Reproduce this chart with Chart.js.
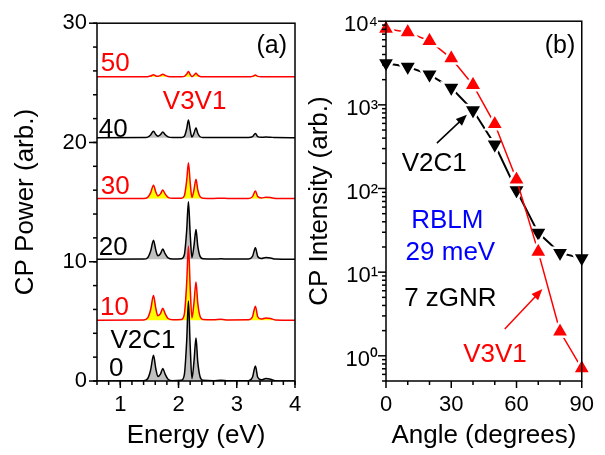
<!DOCTYPE html>
<html><head><meta charset="utf-8">
<script src="https://cdn.jsdelivr.net/npm/chart.js@4/dist/chart.umd.min.js"></script>
<style>
html,body{margin:0;padding:0;background:#fff;}
#wrap{position:relative;width:605px;height:455px;background:#fff;}
canvas{position:absolute;left:0;top:0;}
</style></head><body>
<div id="wrap"><canvas id="ca" width="605" height="455"></canvas><canvas id="cb" width="605" height="455"></canvas></div>
<script>
// ---------- Panel (a): CP power spectra (values above each baseline) ----------
const energy = [0.60, 1.40, 1.47, 1.52, 1.57, 1.61, 1.645, 1.69, 1.73, 1.77, 1.82, 1.90, 2.05, 2.10, 2.14, 2.17, 2.20, 2.23, 2.265, 2.30, 2.33, 2.37, 2.42, 2.60, 2.73, 2.85, 3.20, 3.27, 3.32, 3.36, 3.42, 3.50, 3.58, 3.66, 4.00];
const spec0  = [0,0.02,0.19,0.9,2.15,1.03,0.38,0.58,1.05,0.58,0.15,0.03,0.07,0.54,3.35,6.7,3.0,0.2,1.62,3.6,1.62,0.36,0.07,0.03,0.07,0.02,0.03,0.31,1.25,0.31,0.1,0.2,0.15,0.03,0];
const spec10 = [0,0.02,0.19,0.87,2.07,0.99,0.37,0.55,1.0,0.55,0.14,0.03,0.06,0.5,3.1,6.2,2.79,0.19,1.44,3.2,1.44,0.32,0.06,0.03,0.07,0.02,0.03,0.29,1.17,0.29,0.09,0.19,0.14,0.02,0];
const spec20 = [0,0.02,0.14,0.67,1.6,0.77,0.3,0.47,0.86,0.47,0.12,0.03,0.05,0.39,2.42,4.83,2.17,0.14,1.13,2.5,1.13,0.25,0.05,0.02,0.05,0.02,0.02,0.24,0.97,0.24,0.08,0.16,0.12,0.02,0];
const spec30 = [0,0.01,0.1,0.47,1.12,0.54,0.22,0.39,0.71,0.39,0.1,0.02,0.03,0.24,1.5,3.0,1.35,0.09,0.73,1.62,0.73,0.16,0.03,0.01,0.03,0.01,0.01,0.16,0.63,0.16,0.05,0.1,0.08,0.01,0];
const spec40 = [0,0.01,0.05,0.23,0.55,0.26,0.12,0.26,0.47,0.26,0.07,0.01,0.02,0.12,0.75,1.49,0.67,0.05,0.37,0.83,0.37,0.08,0.02,0.01,0.02,0.01,0.01,0.09,0.36,0.09,0.03,0.06,0.04,0.01,0];
const spec50 = [0,0,0.02,0.07,0.17,0.08,0.05,0.12,0.22,0.12,0.03,0.01,0.01,0.04,0.23,0.45,0.2,0.02,0.14,0.3,0.14,0.03,0.01,0,0.01,0,0,0.04,0.15,0.04,0.01,0.02,0.02,0,0];
const specAngles  = ['0', '10', '20', '30', '40', '50'];
const specOffsets = [0, 5.1, 10.2, 15.3, 20.4, 25.5];
const energyTicks = [1, 2, 3, 4];
const powerTicks  = [0, 10, 20, 30];

// ---------- Panel (b): CP intensity vs angle ----------
const angleDeg = [0, 10, 20, 30, 40, 50, 60, 70, 80, 90];
const v3v1 = [8100, 7400, 5800, 3600, 1730, 590, 128, 17.5, 1.95, 0.71];
const v2c1 = [3150, 2850, 2300, 1600, 860, 335, 95, 29.5, 17, 14.7];
const angleTicks = [0, 30, 60, 90];
const intensityTicks = [1, 10, 100, 1000, 10000];
const intensityTickLabels = ['10\u2070', '10\u00B9', '10\u00B2', '10\u00B3', '10\u2074'];

const FONT = '"Liberation Sans", Arial, Helvetica, sans-serif';
const RED = '#ff0000', BLACK = '#000000', YELLOW = '#ffff00', GRAY = '#c0c0c0', BLUE = '#0000ff';

function seg(ctx, x1, y1, x2, y2) { ctx.beginPath(); ctx.moveTo(x1, y1); ctx.lineTo(x2, y2); ctx.stroke(); }
function txt(ctx, s, x, y, color, size) {
  ctx.font = size + 'px ' + FONT; ctx.fillStyle = color; ctx.textAlign = 'center'; ctx.textBaseline = 'middle';
  ctx.fillText(s, x, y);
}
function arrow(ctx, x1, y1, x2, y2, color) {
  const ang = Math.atan2(y2 - y1, x2 - x1), hl = 11, hw = 4.5;
  ctx.strokeStyle = color; ctx.fillStyle = color; ctx.lineWidth = 1.5;
  seg(ctx, x1, y1, x2 - hl * 0.7 * Math.cos(ang), y2 - hl * 0.7 * Math.sin(ang));
  ctx.beginPath(); ctx.moveTo(x2, y2);
  ctx.lineTo(x2 - hl * Math.cos(ang) + hw * Math.sin(ang), y2 - hl * Math.sin(ang) - hw * Math.cos(ang));
  ctx.lineTo(x2 - hl * Math.cos(ang) - hw * Math.sin(ang), y2 - hl * Math.sin(ang) + hw * Math.cos(ang));
  ctx.closePath(); ctx.fill();
}

function boxAndTicks(chart, xMajor, xMinor, yMajor, yMinor) {
  const {ctx, chartArea: a, scales: {x, y}} = chart;
  ctx.save();
  ctx.strokeStyle = '#000'; ctx.lineWidth = 1.5;
  ctx.strokeRect(a.left, a.top, a.right - a.left, a.bottom - a.top);
  xMinor.forEach(v => { const p = x.getPixelForValue(v); seg(ctx, p, a.bottom, p, a.bottom + 4); });
  xMajor.forEach(v => { const p = x.getPixelForValue(v); seg(ctx, p, a.bottom, p, a.bottom + 7); });
  yMinor.forEach(v => { const p = y.getPixelForValue(v); seg(ctx, a.left - 4, p, a.left, p); });
  yMajor.forEach(v => { const p = y.getPixelForValue(v); seg(ctx, a.left - 8, p, a.left, p); });
  ctx.restore();
}

const decorA = {
  id: 'decorA',
  afterDraw(chart) {
    const xMinor = [], yMinor = [];
    for (let i = 3; i <= 20; i++) xMinor.push(i / 5);
    for (let i = 0; i <= 15; i++) yMinor.push(i * 2);
    boxAndTicks(chart, energyTicks, xMinor, powerTicks, yMinor);
    const {ctx, scales: {x, y}} = chart;
    const notes = [
      ['(a)', 3.6, 28.1, BLACK, 25], ['50', 0.914, 26.6, RED, 26], ['V3V1', 2.276, 23.4, RED, 26],
      ['40', 0.88, 21.1, BLACK, 26], ['30', 0.914, 16.3, RED, 26], ['20', 0.88, 11.2, BLACK, 26],
      ['10', 0.9, 6.1, RED, 26], ['V2C1', 1.39, 3.4, BLACK, 26], ['0', 0.93, 1.0, BLACK, 26]
    ];
    ctx.save();
    notes.forEach(n => txt(ctx, n[0], x.getPixelForValue(n[1]), y.getPixelForValue(n[2]), n[3], n[4]));
    ctx.restore();
  }
};

const decorB = {
  id: 'decorB',
  afterDraw(chart) {
    const xMinor = [10, 20, 40, 50, 70, 80], yMinor = [];
    [0.1, 1, 10, 100, 1000].forEach(d => { for (let k = 2; k <= 9; k++) { const v = d * k; if (v >= 0.5 && v <= 10000) yMinor.push(v); } });
    boxAndTicks(chart, angleTicks, xMinor, intensityTicks, yMinor);
    const {ctx, scales: {x, y}} = chart;
    ctx.save();
    const notes = [
      ['(b)', 80, 5080, BLACK, 25], ['V2C1', 22.2, 197, BLACK, 26], ['RBLM', 28.2, 40.8, BLUE, 26],
      ['29 meV', 29.6, 17.1, BLUE, 26], ['7 zGNR', 29.6, 4.74, BLACK, 26], ['V3V1', 50.1, 1.035, RED, 26]
    ];
    notes.forEach(n => txt(ctx, n[0], x.getPixelForValue(n[1]), y.getPixelForValue(n[2]), n[3], n[4]));
    arrow(ctx, x.getPixelForValue(23.4), y.getPixelForValue(349), x.getPixelForValue(37.2), y.getPixelForValue(760), BLACK);
    arrow(ctx, x.getPixelForValue(54.6), y.getPixelForValue(2.09), x.getPixelForValue(71.9), y.getPixelForValue(6.28), RED);
    ctx.restore();
  }
};

const spectra = [spec0, spec10, spec20, spec30, spec40, spec50];
const dsA = spectra.map((s, i) => ({
  label: specAngles[i],
  data: energy.map((e, j) => ({x: e, y: specOffsets[i] + s[j]})),
  borderColor: i % 2 ? RED : BLACK,
  backgroundColor: i % 2 ? YELLOW : GRAY,
  fill: {value: specOffsets[i]},
  borderWidth: 1.5,
  pointRadius: 0,
  cubicInterpolationMode: 'monotone'
}));

const tickFont = {family: FONT, size: 22};
const titleFont = {family: FONT, size: 26};

new Chart(document.getElementById('ca'), {
  type: 'line',
  data: {datasets: dsA},
  options: {
    responsive: false, animation: false, devicePixelRatio: 1,
    layout: {padding: {left: 0, top: 18, right: 310, bottom: 0}},
    plugins: {legend: {display: false}, tooltip: {enabled: false}},
    scales: {
      x: {
        type: 'linear', min: 0.6, max: 4,
        afterBuildTicks: s => { s.ticks = energyTicks.map(v => ({value: v})); },
        afterFit: s => { s.height = 74; },
        grid: {display: false, drawTicks: false}, border: {display: false},
        ticks: {color: '#000', font: tickFont, padding: 11, maxRotation: 0, autoSkip: false},
        title: {display: true, text: 'Energy (eV)', color: '#000', font: titleFont, padding: {top: 0, bottom: 4}}
      },
      y: {
        type: 'linear', min: 0, max: 30,
        afterBuildTicks: s => { s.ticks = powerTicks.map(v => ({value: v})); },
        afterFit: s => { s.width = 97; },
        grid: {display: false, drawTicks: false}, border: {display: false},
        ticks: {color: '#000', font: tickFont, padding: 10, autoSkip: false},
        title: {display: true, text: 'CP Power (arb.)', color: '#000', font: titleFont, padding: {top: 10, bottom: 0}}
      }
    }
  },
  plugins: [decorA]
});

new Chart(document.getElementById('cb'), {
  type: 'line',
  data: {
    datasets: [
      {label: 'V3V1', data: angleDeg.map((a, i) => ({x: a, y: v3v1[i]})), borderColor: RED, backgroundColor: RED,
       borderWidth: 1.5, pointStyle: 'triangle', pointRadius: 10.5, pointBorderColor: '#ffffff', pointBorderWidth: 2.5, fill: false},
      {label: 'V2C1', data: angleDeg.map((a, i) => ({x: a, y: v2c1[i]})), borderColor: BLACK, backgroundColor: BLACK,
       borderWidth: 2, pointStyle: 'triangle', pointRotation: 180, pointRadius: 10.5, pointBorderColor: '#ffffff', pointBorderWidth: 2.5, fill: false}
    ]
  },
  options: {
    responsive: false, animation: false, devicePixelRatio: 1, clip: false,
    layout: {padding: {left: 300, top: 18, right: 20, bottom: 0}},
    plugins: {legend: {display: false}, tooltip: {enabled: false}},
    scales: {
      x: {
        type: 'linear', min: 0, max: 90,
        afterBuildTicks: s => { s.ticks = angleTicks.map(v => ({value: v})); },
        afterFit: s => { s.height = 74; },
        grid: {display: false, drawTicks: false}, border: {display: false},
        ticks: {color: '#000', font: tickFont, padding: 11, maxRotation: 0, autoSkip: false},
        title: {display: true, text: 'Angle (degrees)', color: '#000', font: titleFont, padding: {top: 0, bottom: 4}}
      },
      y: {
        type: 'logarithmic', min: 0.5, max: 10000,
        afterBuildTicks: s => { s.ticks = intensityTicks.map(v => ({value: v})); },
        afterFit: s => { s.width = 86; },
        grid: {display: false, drawTicks: false}, border: {display: false},
        ticks: {color: '#000', font: tickFont, padding: 8, labelOffset: 4, autoSkip: false,
                callback: v => intensityTickLabels[intensityTicks.indexOf(v)] ?? ''},
        title: {display: true, text: 'CP Intensity (arb.)', color: '#000', font: titleFont, padding: {top: 4, bottom: 0}}
      }
    }
  },
  plugins: [decorB]
});
</script>
</body></html>
